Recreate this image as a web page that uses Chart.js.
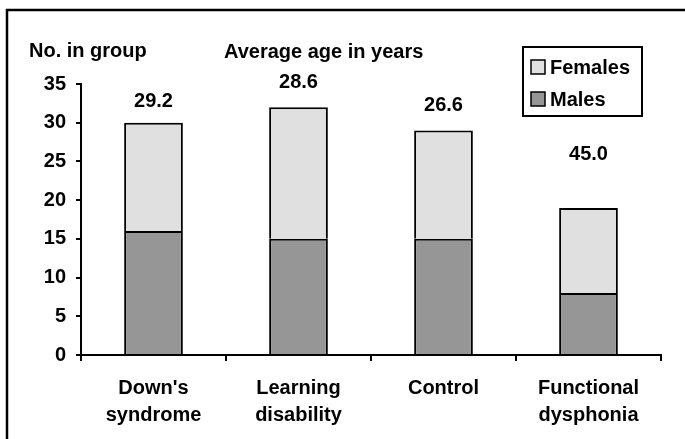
<!DOCTYPE html>
<html>
<head>
<meta charset="utf-8">
<script src="https://cdn.jsdelivr.net/npm/chart.js@4.4.1/dist/chart.umd.min.js"></script>
<style>
  html, body { margin: 0; padding: 0; background: #fff; }
  canvas { display: block; }
</style>
</head>
<body>
<canvas id="groupChart" width="685" height="439"></canvas>
<script>
// data
const groups = [["Down's", "syndrome"], ["Learning", "disability"], ["Control"], ["Functional", "dysphonia"]];
const males = [16, 15, 15, 8];
const females = [14, 17, 14, 11];
const averageAge = ["29.2", "28.6", "26.6", "45.0"];
const yTicks = [0, 5, 10, 15, 20, 25, 30, 35];

const FONT = "'Liberation Sans', Arial, sans-serif";

// frame, titles, legend and the age labels
const extrasPlugin = {
  id: 'extras',
  afterDraw(chart) {
    const c = chart.ctx;
    c.save();

    // outer frame (only top and left are on the picture)
    c.strokeStyle = '#000';
    c.lineWidth = 2.5;
    c.beginPath();
    c.moveTo(7, 439);
    c.lineTo(7, 10);
    c.lineTo(685, 10);
    c.stroke();

    c.fillStyle = '#000';
    c.font = 'bold 20px ' + FONT;
    c.textBaseline = 'middle';
    c.textAlign = 'left';
    c.fillText('No. in group', 29, 51);
    c.fillText('Average age in years', 224, 52);

    // average age above each stack
    const gaps = [21, 25, 25, 53];
    const top = chart.getDatasetMeta(1);
    c.textAlign = 'center';
    top.data.forEach((bar, i) => {
      c.fillText(averageAge[i], bar.x, bar.y - gaps[i]);
    });

    // legend box
    c.lineWidth = 2;
    c.strokeRect(523, 47, 119, 69);
    const items = [chart.data.datasets[1], chart.data.datasets[0]];
    const rows = [67, 99];
    c.textAlign = 'left';
    items.forEach((ds, i) => {
      c.fillStyle = ds.backgroundColor;
      c.fillRect(531, rows[i] - 7, 14, 14);
      c.strokeStyle = '#000';
      c.lineWidth = 1.5;
      c.strokeRect(531, rows[i] - 7, 14, 14);
      c.fillStyle = '#000';
      c.fillText(ds.label, 550, rows[i] + 1);
    });

    c.restore();
  }
};

new Chart(document.getElementById('groupChart'), {
  type: 'bar',
  data: {
    labels: groups,
    datasets: [
      {
        label: 'Males',
        data: males,
        backgroundColor: '#969696',
        borderColor: '#000',
        borderWidth: 2,
        borderSkipped: 'start',
        barPercentage: 0.405,
        categoryPercentage: 1
      },
      {
        label: 'Females',
        data: females,
        backgroundColor: '#e0e0e0',
        borderColor: '#000',
        borderWidth: 2,
        borderSkipped: 'start',
        barPercentage: 0.405,
        categoryPercentage: 1
      }
    ]
  },
  options: {
    responsive: false,
    animation: false,
    layout: { padding: { top: 84, right: 24, left: 0, bottom: 0 } },
    plugins: {
      legend: { display: false },
      tooltip: { enabled: false }
    },
    scales: {
      x: {
        stacked: true,
        grid: { display: true, drawOnChartArea: false, offset: true, color: '#000', lineWidth: 2, tickLength: 6 },
        border: { display: true, color: '#000', width: 2 },
        ticks: { color: '#000', font: { family: FONT, size: 20, weight: 'bold', lineHeight: 1.35 }, padding: 14, maxRotation: 0 },
        afterFit(scale) { scale.height = 84; }
      },
      y: {
        stacked: true,
        min: 0,
        max: 35,
        afterBuildTicks(scale) { scale.ticks = yTicks.map(v => ({ value: v })); },
        grid: { display: true, drawOnChartArea: false, color: '#000', lineWidth: 2, tickLength: 5 },
        border: { display: true, color: '#000', width: 2 },
        ticks: { color: '#000', font: { family: FONT, size: 20, weight: 'bold' }, padding: 10 },
        afterFit(scale) { scale.width = 81; }
      }
    }
  },
  plugins: [extrasPlugin]
});
</script>
</body>
</html>
